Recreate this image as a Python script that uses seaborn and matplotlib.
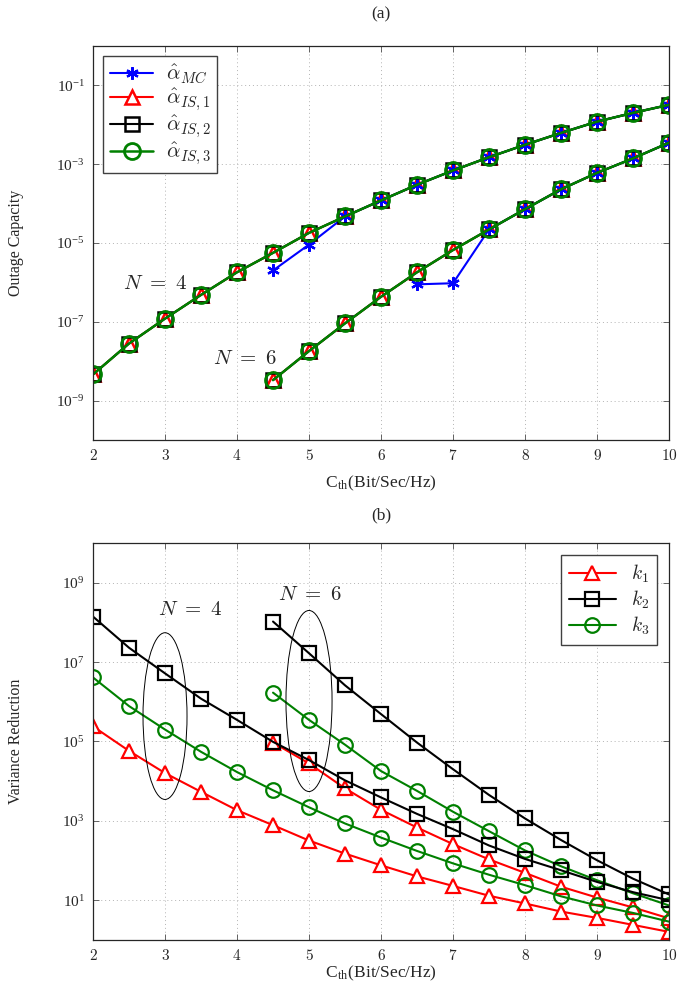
import matplotlib
matplotlib.use('Agg')
import matplotlib.pyplot as plt
from matplotlib.patches import Ellipse
from matplotlib.ticker import NullLocator, FuncFormatter
import seaborn as sns


# --- (a) outage capacity ---
x_n4 = [2, 2.5, 3, 3.5, 4, 4.5, 5, 5.5, 6, 6.5, 7, 7.5, 8, 8.5, 9, 9.5, 10]
x_n6 = [4.5, 5, 5.5, 6, 6.5, 7, 7.5, 8, 8.5, 9, 9.5, 10]
x_mc_n4 = [4.5, 5, 5.5, 6, 6.5, 7, 7.5, 8, 8.5, 9, 9.5, 10]
x_mc_n6 = [6.5, 7, 7.5, 8, 8.5, 9, 9.5, 10]

is_n4 = [4.6e-9, 2.8e-8, 1.2e-7, 4.8e-7, 1.8e-6, 5.6e-6, 1.8e-5, 4.7e-5, 1.2e-4,
         3.0e-4, 6.9e-4, 1.5e-3, 3.1e-3, 6.2e-3, 1.2e-2, 2.0e-2, 3.2e-2]
is_n6 = [3.3e-9, 1.8e-8, 9.1e-8, 4.3e-7, 1.8e-6, 6.6e-6, 2.2e-5, 7.2e-5, 2.3e-4,
         6.0e-4, 1.4e-3, 3.5e-3]
mc_n4 = [2.0e-6, 9.1e-6, 4.7e-5, 1.2e-4, 3.0e-4, 6.9e-4, 1.5e-3, 3.1e-3, 6.2e-3,
         1.2e-2, 2.0e-2, 3.2e-2]
mc_n6 = [8.9e-7, 9.5e-7, 2.2e-5, 7.2e-5, 2.3e-4, 6.0e-4, 1.4e-3, 3.5e-3]

# --- (b) variance reduction ---
k1_n4 = [2.4e5, 5.8e4, 1.6e4, 5.4e3, 1.86e3, 7.8e2, 3.2e2, 1.5e2, 76, 40, 23, 13,
         8.3, 5.2, 3.6, 2.4, 1.6]
k2_n4 = [1.4e8, 2.3e7, 5.2e6, 1.2e6, 3.5e5, 9.8e4, 3.4e4, 1.05e4, 3.9e3, 1.5e3,
         6.2e2, 2.4e2, 1.1e2, 57, 29, 16, 10]
k3_n4 = [4.1e6, 7.8e5, 2.0e5, 5.5e4, 1.7e4, 5.9e3, 2.2e3, 8.6e2, 3.8e2, 1.75e2,
         85, 44, 24, 12.6, 7.4, 4.8, 2.9]
k1_n6 = [9.4e4, 2.8e4, 6.6e3, 1.9e3, 6.8e2, 2.6e2, 1.07e2, 49, 22, 11.7, 6.6, 3.5]
k2_n6 = [1.05e8, 1.67e7, 2.6e6, 4.9e5, 9.4e4, 2.0e4, 4.5e3, 1.15e3, 3.3e2, 1.02e2,
         35, 14]
k3_n6 = [1.7e6, 3.5e5, 8.3e4, 1.8e4, 5.7e3, 1.7e3, 5.5e2, 1.8e2, 72, 32, 15, 7.4]

xticks = [2, 3, 4, 5, 6, 7, 8, 9, 10]
yticks_a = [1e-9, 1e-7, 1e-5, 1e-3, 1e-1]
yticks_b = [1e1, 1e3, 1e5, 1e7, 1e9]

sns.set_theme(style='ticks')
plt.rcParams['font.family'] = ['Liberation Serif', 'DejaVu Serif']
plt.rcParams['mathtext.fontset'] = 'cm'

fig = plt.figure(figsize=(6.89, 9.88), dpi=100)
ax_a = fig.add_axes([0.135, 0.5547, 0.836, 0.3988])
ax_b = fig.add_axes([0.135, 0.0486, 0.836, 0.4018])

asterisk = (6, 2, 0)


def draw(ax, x, y, color, marker, ms, fill, z, mew=1.6, lw=1.5):
    sns.lineplot(x=x, y=y, ax=ax, color=color, marker=marker, markersize=ms,
                 markerfacecolor=fill, markeredgecolor=color,
                 markeredgewidth=mew, linewidth=lw, zorder=z)
    return ax.lines[-1]


# top panel
for xs, mc in [(x_mc_n4, mc_n4), (x_mc_n6, mc_n6)]:
    h_mc = draw(ax_a, xs, mc, 'blue', asterisk, 9, 'blue', 2.1, mew=1.6)
for xs, ys in [(x_n4, is_n4), (x_n6, is_n6)]:
    h1 = draw(ax_a, xs, ys, 'red', '^', 10, 'white', 2.0, mew=1.8)
    h2 = draw(ax_a, xs, ys, 'black', 's', 9.5, 'none', 2.2, mew=1.8)
    h3 = draw(ax_a, xs, ys, 'green', 'o', 11.5, 'none', 2.3, mew=2.0, lw=1.8)
ax_a.legend([h_mc, h1, h2, h3],
            [r'$\hat{\alpha}_{MC}$', r'$\hat{\alpha}_{IS,1}$',
             r'$\hat{\alpha}_{IS,2}$', r'$\hat{\alpha}_{IS,3}$'],
            loc='upper left', fontsize=15, fancybox=False, framealpha=1,
            edgecolor='0.25', handlelength=2.1, borderaxespad=0.5,
            labelspacing=0.02, borderpad=0.3, handletextpad=0.6)
ax_a.set_yscale('log')
ax_a.set_ylim(1e-10, 1)
ax_a.set_yticks(yticks_a)
ax_a.text(2.86, 10 ** -6.06, r'$N\ =\ 4$', fontsize=15, ha='center', va='center')
ax_a.text(4.11, 10 ** -7.95, r'$N\ =\ 6$', fontsize=15, ha='center', va='center')
ax_a.set_ylabel('Outage Capacity', fontsize=11.5)

# bottom panel
h_k1 = draw(ax_b, x_n4, k1_n4, 'red', '^', 10, 'white', 2.0)
h_k2 = draw(ax_b, x_n4, k2_n4, 'black', 's', 10, 'none', 2.2)
h_k3 = draw(ax_b, x_n4, k3_n4, 'green', 'o', 10.5, 'none', 2.1)
draw(ax_b, x_n6, k1_n6, 'red', '^', 10, 'white', 2.0)
draw(ax_b, x_n6, k2_n6, 'black', 's', 10, 'none', 2.2)
draw(ax_b, x_n6, k3_n6, 'green', 'o', 10.5, 'none', 2.1)
ax_b.legend([h_k1, h_k2, h_k3], [r'$k_1$', r'$k_2$', r'$k_3$'],
            loc='upper right', fontsize=14, fancybox=False, framealpha=1,
            edgecolor='0.25', handlelength=2.4, borderaxespad=0.6,
            labelspacing=0.2, borderpad=0.4)
ax_b.set_yscale('log')
ax_b.set_ylim(1, 1e10)
ax_b.set_yticks(yticks_b)
ax_b.add_patch(Ellipse((0.125, 0.564), 0.0764, 0.42, transform=ax_b.transAxes,
                       fill=False, edgecolor='black', lw=0.7, zorder=3))
ax_b.add_patch(Ellipse((0.375, 0.602), 0.08, 0.456, transform=ax_b.transAxes,
                       fill=False, edgecolor='black', lw=0.7, zorder=3))
ax_b.text(3.35, 10 ** 8.31, r'$N\ =\ 4$', fontsize=15, ha='center', va='center')
ax_b.text(5.01, 10 ** 8.67, r'$N\ =\ 6$', fontsize=15, ha='center', va='center')
ax_b.set_ylabel('Variance Reduction', fontsize=11.5)

for ax in (ax_a, ax_b):
    ax.set_xlim(2, 10)
    ax.set_xticks(xticks)
    ax.xaxis.set_major_formatter(FuncFormatter(lambda v, _: f'${v:g}$'))
    ax.yaxis.set_minor_locator(NullLocator())
    ax.tick_params(which='both', direction='in', top=True, right=True,
                   length=4, width=0.6, labelsize=11, pad=6, color='0.3')
    ax.grid(True, which='major', linestyle=(0, (1, 3)), color='0.7', lw=0.7)
    for sp in ax.spines.values():
        sp.set_linewidth(0.9)
        sp.set_color('0.15')
    ax.set_xlabel(r'C$_\mathdefault{th}$(Bit/Sec/Hz)', fontsize=12.5)
    ax.yaxis.set_label_coords(-0.12, 0.5)

ax_a.xaxis.set_label_coords(0.5, -0.085)
ax_b.xaxis.set_label_coords(0.5, -0.06)

fig.text(0.553, 1 - 14 / 988, '(a)', ha='center', va='center', fontsize=12.5)
fig.text(0.553, 1 - 515 / 988, '(b)', ha='center', va='center', fontsize=12.5)

fig.savefig('out.png', dpi=100)
